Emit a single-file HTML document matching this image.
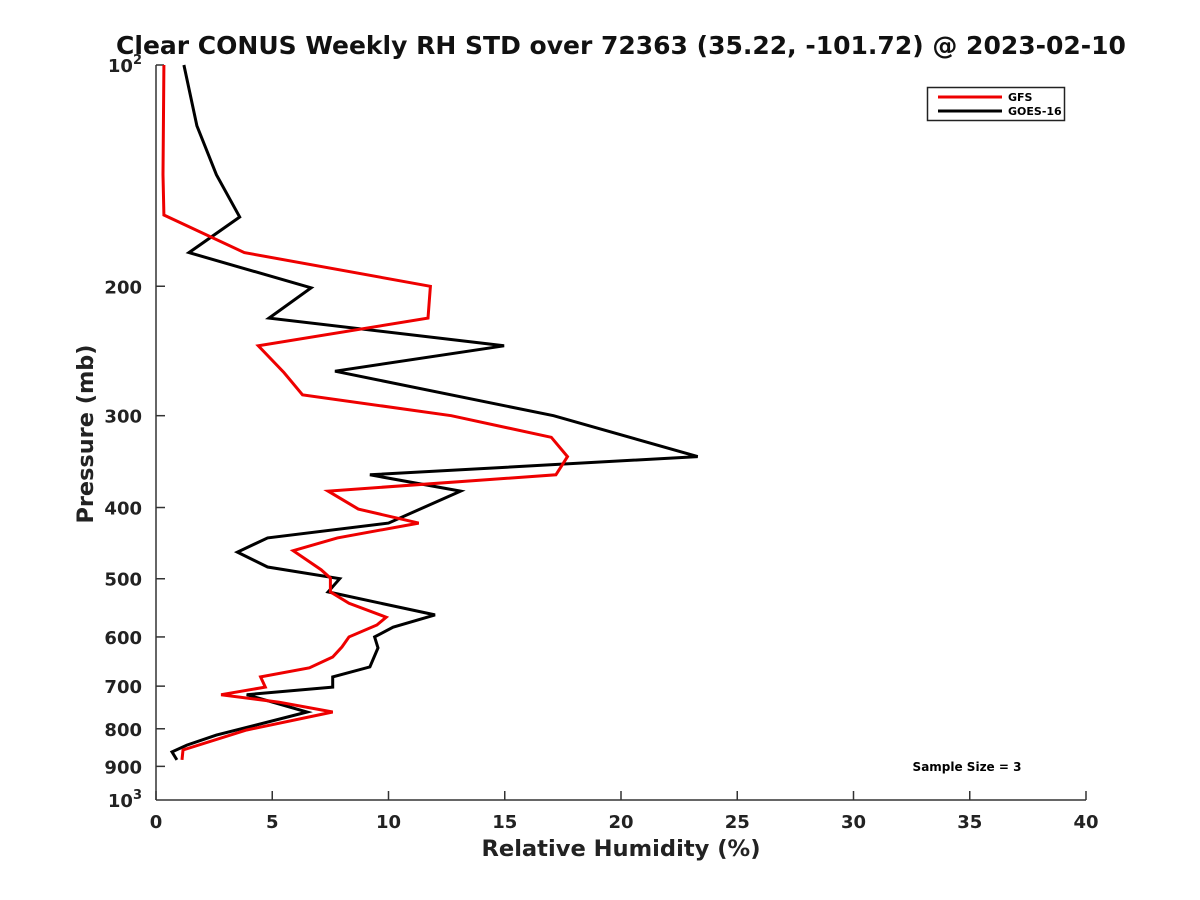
<!DOCTYPE html>
<html><head><meta charset="utf-8"><style>
body{margin:0;background:#fff}
svg{display:block;font-family:"DejaVu Sans","Liberation Sans",sans-serif;font-weight:bold}
</style></head><body>
<svg id="chart" width="1200" height="900" viewBox="0 0 1200 900">
<text x="621" y="54" font-size="25" text-anchor="middle" fill="#111">Clear CONUS Weekly RH STD over 72363 (35.22, -101.72) @ 2023-02-10</text>
<g id="axes"></g>
<g id="series"></g>
<text x="621" y="856" font-size="22.6" text-anchor="middle" fill="#222">Relative Humidity (%)</text>
<text transform="translate(93,434) rotate(-90)" font-size="22.4" text-anchor="middle" fill="#222">Pressure (mb)</text>
<g>
<rect x="927.5" y="87.5" width="137" height="33" fill="#fff" stroke="#222" stroke-width="1.5"/>
<line x1="938" y1="97" x2="1002" y2="97" stroke="#e00" stroke-width="3"/>
<text x="1008" y="101" font-size="11">GFS</text>
<line x1="938" y1="111" x2="1002" y2="111" stroke="#000" stroke-width="3"/>
<text x="1008" y="115" font-size="11">GOES-16</text>
</g>
<text x="967" y="771" font-size="12" text-anchor="middle">Sample Size = 3</text>
</svg>
<script>
const xTicks=[0,5,10,15,20,25,30,35,40];
const yTicks=[200,300,400,500,600,700,800,900];
const gfsP=[100,141,160,180,200,221,241,262,281,300,321,341,361,380,402,420,440,458,486,499,521,540,564,578,600,619,639,661,680,702,719,736,759,803,855,882];
const gfsRH=[0.34,0.3,0.34,3.8,11.8,11.7,4.4,5.5,6.3,12.7,17.0,17.7,17.2,7.4,8.7,11.3,7.8,5.9,7.1,7.5,7.5,8.3,9.9,9.5,8.3,8.0,7.6,6.6,4.5,4.7,2.8,5.3,7.6,3.9,1.16,1.12];
const goesP=[100,121,141,161,180,201,221,241,261,300,341,361,380,420,440,460,482,500,521,560,582,600,621,659,680,702,719,759,816,842,860,882];
const goesRH=[1.2,1.76,2.6,3.6,1.42,6.67,4.86,14.97,7.7,17.1,23.3,9.2,13.1,10.0,4.8,3.5,4.8,7.9,7.4,12.0,10.2,9.4,9.55,9.2,7.6,7.6,3.9,6.5,2.6,1.33,0.69,0.9];
const NS='http://www.w3.org/2000/svg';
const X0=156,X1=1086,Y0=65,Y1=800;
const xs=v=>X0+(v-0)/(40-0)*(X1-X0);
const ys=p=>Y0+(Math.log10(p)-2)*(Y1-Y0);
function mk(tag,attrs,parent){const e=document.createElementNS(NS,tag);for(const k in attrs)e.setAttribute(k,attrs[k]);parent.appendChild(e);return e;}
const ax=document.getElementById('axes');
let l=mk('line',{x1:X0,y1:Y0,x2:X0,y2:Y1,stroke:'#333','stroke-width':1.5},ax);


l=mk('line',{x1:X0,y1:Y1,x2:X1,y2:Y1,stroke:'#333','stroke-width':1.5},ax);


l=mk('line',{x1:X0,y1:Y0,x2:X0+8,y2:Y0,stroke:'#333','stroke-width':1.5},ax);


xTicks.forEach(v=>{
  const x=xs(v);
  const t=mk('line',{x1:x,y1:Y1,x2:x,y2:Y1-9,stroke:'#333','stroke-width':1.5},ax);
  
  
  const tx=mk('text',{x:x,y:Y1+28,'font-size':18,'text-anchor':'middle',fill:'#222'},ax);
  tx.textContent=v;
  
  
});
yTicks.forEach(p=>{
  const y=ys(p);
  const t=mk('line',{x1:X0,y1:y,x2:X0+9,y2:y,stroke:'#333','stroke-width':1.5},ax);
  
  
  const tx=mk('text',{x:X0-14,y:y+7,'font-size':18,'text-anchor':'end',fill:'#222'},ax);
  tx.textContent=p;
  
  
});
[[100,'2'],[1000,'3']].forEach(([p,e])=>{
  const y=ys(p);
  const tx=mk('text',{x:X0-14,y:y+7,'font-size':18,'text-anchor':'end',fill:'#222'},ax);
  tx.innerHTML='10<tspan dy="-8" font-size="13">'+e+'</tspan>';
  
  
});
const sg=document.getElementById('series');
function line(P,R,color,name){
  const pts=P.map((p,i)=>xs(R[i]).toFixed(1)+','+ys(p).toFixed(1)).join(' ');
  const pl=mk('polyline',{points:pts,fill:'none',stroke:color,'stroke-width':3,'stroke-linejoin':'miter'},sg);
  
  
}
line(goesP,goesRH,'#000','goes16-line');
line(gfsP,gfsRH,'#e00','gfs-line');
</script>
</body></html>
